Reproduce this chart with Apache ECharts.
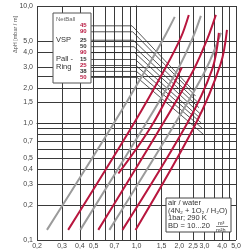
<!DOCTYPE html>
<html>
<head>
<meta charset="utf-8">
<style>
  html, body { margin: 0; padding: 0; background: #fff; }
  #chart { width: 250px; height: 250px; }
</style>
<script src="https://cdn.jsdelivr.net/npm/echarts@6/dist/echarts.min.js"></script>
</head>
<body>
<div id="chart"></div>
<script>
  // grid lines and labelled ticks (real values, axes are log10)
  const xGrid = [0.2, 0.3, 0.4, 0.5, 0.6, 0.7, 0.8, 0.9, 1.0, 1.5, 2.0, 2.5, 3.0, 3.5, 4.0, 4.5, 5.0];
  const xLabels = [0.2, 0.3, 0.4, 0.5, 0.7, 1.0, 1.5, 2.0, 2.5, 3.0, 4.0, 5.0];
  const yGrid = [0.1, 0.2, 0.3, 0.4, 0.5, 0.6, 0.7, 0.8, 0.9, 1.0, 1.5, 2.0, 2.5, 3.0, 4.0, 5.0, 10.0];
  const yLabels = [0.1, 0.2, 0.3, 0.4, 0.5, 0.7, 1.0, 1.5, 2.0, 3.0, 4.0, 5.0, 10.0];

  // pressure drop curves [load, dp/H], left to right
  const curve1 = [[0.235, 0.122], [0.688, 0.98], [1.256, 3.35], [1.60, 5.68], [1.856, 8.07]];
  const curve2 = [[0.331, 0.122], [0.953, 0.98], [1.603, 2.98], [2.047, 5.36], [2.33, 8.39]];
  const curve3 = [[0.403, 0.122], [1.158, 0.98], [1.98, 2.98], [2.486, 5.36], [2.832, 8.23]];
  const curve4 = [[0.539, 0.122], [1.527, 0.98], [2.527, 2.87], [3.17, 5.36], [3.61, 8.39]];
  const curve5 = [[0.645, 0.122], [1.856, 0.98], [3.07, 2.87], [3.92, 5.90]];
  const curve6 = [[0.797, 0.122], [2.256, 0.98], [3.4, 2.87], [3.79, 5.90]];
  const curve7 = [[0.985, 0.122], [2.6, 0.98], [3.9, 3.2], [4.32, 6.26]];
  const curve8 = [[0.746, 0.37], [1.30, 0.98], [2.08, 2.98]];
  const curveColors = ['#9b9b9b', '#b8163e', '#9b9b9b', '#b8163e', '#9b9b9b', '#b8163e', '#b8163e', '#b8163e'];

  // leader lines from the key box to the curves
  const leaderRows = [6.77, 6.02, 5.10, 4.49, 4.00, 3.49, 3.10, 2.76, 2.45];
  const leaderBend = [0.93, 0.94, 0.95, 0.96, 0.97, 0.98, 0.99, 1.0, 1.01];
  const leaderEnd = [[2.5, 1.9], [2.6, 1.7], [2.7, 1.5], [2.75, 1.35], [2.8, 1.2], [2.8, 1.1], [2.85, 1.0], [2.9, 0.9], [2.95, 0.8]];
  const keyEdge = 0.48;

  const keyNames = ['NetBall', 'VSP', 'Pall -', 'Ring'];
  const keySizes = ['45', '90', '25', '50', '90', '15', '25', '38', '50'];
  const keyRed = [true, true, false, false, true, false, true, false, true];

  const lg = v => Math.log10(v);
  const fmt = v => Math.pow(10, v).toFixed(1).replace('.', ',');

  const curves = [curve1, curve2, curve3, curve4, curve5, curve6, curve7, curve8];
  const series = [];
  leaderRows.forEach((y, i) => {
    series.push({
      type: 'line', showSymbol: false, silent: true, z: 3,
      lineStyle: { color: '#2b2b2b', width: 0.8 },
      data: [[lg(keyEdge), lg(y)], [lg(leaderBend[i]), lg(y)], [lg(leaderEnd[i][0]), lg(leaderEnd[i][1])]]
    });
  });
  curves.forEach((c, i) => {
    series.push({
      type: 'line', showSymbol: false, silent: true, smooth: 0.35, z: 4,
      lineStyle: { color: curveColors[i], width: 2 },
      data: c.map(p => [lg(p[0]), lg(p[1])])
    });
  });

  const keyTexts = [];
  const rowPx = [26, 32, 40.5, 47, 53, 60, 66, 72, 78];
  keySizes.forEach((s, i) => {
    keyTexts.push({
      type: 'text', left: 80, top: rowPx[i] - 3.5, z: 101,
      style: { text: s, fill: keyRed[i] ? '#b8163e' : '#333', font: 'bold 6px "Liberation Sans"', width: 9, align: 'right' }
    });
  });

  const chart = echarts.init(document.getElementById('chart'), null, { renderer: 'canvas' });
  chart.setOption({
    animation: false,
    backgroundColor: '#fff',
    grid: { left: 37, right: 14, top: 6, bottom: 8 },
    xAxis: {
      type: 'value', min: lg(0.2), max: lg(5.0),
      axisLine: { show: true, lineStyle: { color: '#333', width: 1 } },
      axisTick: { show: false, customValues: xGrid.map(lg) },
      splitLine: { show: true, lineStyle: { color: '#3a3a3a', width: 1 } },
      axisLabel: { customValues: xLabels.map(lg), formatter: fmt, fontSize: 7, color: '#444', margin: 3, fontFamily: 'Liberation Sans' }
    },
    yAxis: {
      type: 'value', min: -1, max: 1,
      axisLine: { show: true, lineStyle: { color: '#333', width: 1 } },
      axisTick: { show: true, length: 3, customValues: yGrid.map(lg), lineStyle: { color: '#333' } },
      splitLine: { show: true, lineStyle: { color: '#3a3a3a', width: 1 } },
      axisLabel: { customValues: yLabels.map(lg), formatter: fmt, fontSize: 7, color: '#444', margin: 4, fontFamily: 'Liberation Sans' }
    },
    graphic: [
      { type: 'text', x: 12, y: 53, rotation: Math.PI / 2, z: 100,
        style: { text: 'ΔpH [mbar / m]', fill: '#555', font: '5.5px "Liberation Sans"' } },
      { type: 'rect', shape: { x: 53, y: 13, width: 38, height: 70 }, z: 100,
        style: { fill: '#fff', stroke: '#555', lineWidth: 1 } },
      { type: 'text', left: 56, top: 16, z: 101, style: { text: keyNames[0], fill: '#666', font: '6px "Liberation Sans"' } },
      { type: 'text', left: 56, top: 36, z: 101, style: { text: keyNames[1], fill: '#333', font: '7.5px "Liberation Sans"' } },
      { type: 'text', left: 56, top: 55, z: 101, style: { text: keyNames[2], fill: '#333', font: '7.5px "Liberation Sans"' } },
      { type: 'text', left: 56, top: 63, z: 101, style: { text: keyNames[3], fill: '#333', font: '7.5px "Liberation Sans"' } },
      ...keyTexts,
      { type: 'rect', shape: { x: 166, y: 198, width: 65, height: 34 }, z: 100,
        style: { fill: '#fff', stroke: '#444', lineWidth: 1 } },
      { type: 'text', left: 168, top: 199, z: 101, style: { text: 'air / water', fill: '#333', font: '7.5px "Liberation Sans"' } },
      { type: 'text', left: 168, top: 206.5, z: 101, style: { text: '(4N₂ + 1O₂ / H₂O)', fill: '#333', font: '7.5px "Liberation Sans"' } },
      { type: 'text', left: 168, top: 214, z: 101, style: { text: '1bar; 290 K', fill: '#333', font: '7.5px "Liberation Sans"' } },
      { type: 'text', left: 168, top: 222, z: 101, style: { text: 'BD = 10...20', fill: '#333', font: '7.5px "Liberation Sans"' } },
      { type: 'text', left: 218, top: 220, z: 101, style: { text: 'm³', fill: '#333', font: '5.5px "Liberation Sans"' } },
      { type: 'line', shape: { x1: 216, y1: 226.5, x2: 228, y2: 226.5 }, z: 101, style: { stroke: '#333', lineWidth: 0.6 } },
      { type: 'text', left: 216, top: 227, z: 101, style: { text: 'm²h', fill: '#333', font: '5.5px "Liberation Sans"' } }
    ],
    series: series
  });
</script>
</body>
</html>
